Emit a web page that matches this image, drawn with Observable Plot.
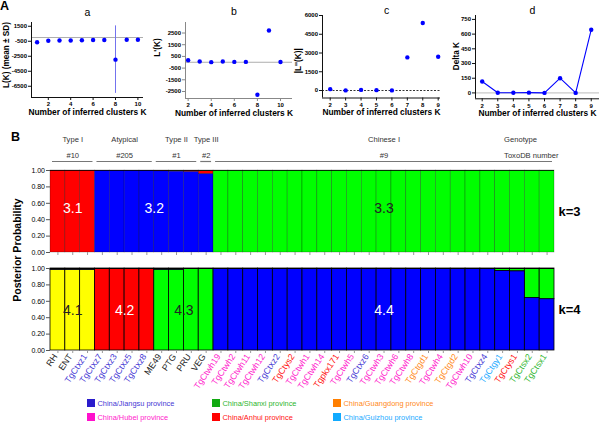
<!DOCTYPE html>
<html><head><meta charset="utf-8">
<script src="https://cdn.jsdelivr.net/npm/d3@7"></script>
<script src="https://cdn.jsdelivr.net/npm/@observablehq/plot@0.6"></script>
<style>
body{margin:0;background:#fff;font-family:"Liberation Sans",Arial,sans-serif;}
#root{position:relative;width:600px;height:423px;overflow:hidden;background:#fff;}
.pane{position:absolute;}
.pane svg{display:block;}
.lbl{position:absolute;white-space:nowrap;color:#000;}
#legend{position:absolute;left:87px;top:398px;display:grid;grid-template-columns:125px 121px 150px;grid-auto-rows:14px;font-size:7.4px;}
#legend .item{display:flex;align-items:center;height:10px;}
#legend .sw{width:8px;height:8px;margin-right:2.5px;flex:none;}
</style></head><body><div id="root"></div>
<script>
// ---------- Data: panel A ----------
const kA = [1, 2, 3, 4, 5, 6, 7, 8, 9, 10];
const lkMean = [-640, -440, -400, -400, -370, -340, -330, -2950, -300, -290];
const lkSd = [10, 15, 15, 20, 20, 25, 25, 4500, 20, 25];
const kB = [2, 3, 4, 5, 6, 7, 8, 9, 10];
const lPrime = [170, 60, 10, 60, 30, 30, -2780, 2720, 20];
const kC = [2, 3, 4, 5, 6, 7, 8, 9];
const lDouble = [110, 10, 50, 30, 10, 2650, 5400, 2700];
const kD = [2, 3, 4, 5, 6, 7, 8, 9];
const deltaK = [116, 2, 1, 3, 0, 150, 0, 645];

// ---------- Data: panel B ----------
const isolates = ["RH","ENT","TgCtxz1","TgCtxz7","TgCtxz3","TgCtxz5","TgCtxz8","ME49","PTG","PRU","VEG",
  "TgCtwh19","TgCtwh2","TgCtwh11","TgCtwh12","TgCtxz2","TgCtys2","TgCtwh1","TgCtwh14","Tgpkx171","TgCtwh5",
  "TgCtxz6","TgCtwh3","TgCtwh6","TgCtwh8","TgCtgd1","TgCtwh4","TgCtgd2","TgCtwh10","TgCtxz4","TgCtgy1",
  "TgCtys1","TgCtsx2","TgCtsx1"];
const origin = ["ref","ref","Jiangsu","Jiangsu","Jiangsu","Jiangsu","Jiangsu","ref","ref","ref","ref",
  "Hubei","Hubei","Hubei","Hubei","Jiangsu","Anhui","Hubei","Hubei","Anhui","Hubei",
  "Jiangsu","Hubei","Hubei","Hubei","Guangdong","Hubei","Guangdong","Hubei","Jiangsu","Guizhou",
  "Anhui","Shanxi","Shanxi"];
// k = 3 membership (clusters shown red / blue / green)
const k3Red   = [1,1,1,0,0,0,0,0.01,0.01,0.02,0.04, 0,0,0,0,0,0,0,0,0,0,0,0,0,0,0,0,0,0,0,0,0,0,0];
const k3Blue  = [0,0,0,1,1,1,1,0.99,0.985,0.98,0.955, 0,0,0,0,0,0,0,0,0,0,0,0,0,0,0,0,0,0,0,0,0,0,0];
const k3Green = [0,0,0,0,0,0,0,0,0.005,0,0.005, 1,1,1,1,1,1,1,1,1,1,1,1,1,1,1,1,1,1,1,1,1,1,1];
// k = 4 membership (clusters shown yellow / red / green / blue)
const k4Yellow = [0.985,0.985,0.985,0,0,0,0,0,0,0,0, 0,0,0,0,0,0,0,0,0,0,0,0,0,0,0,0,0,0,0,0,0,0,0];
const k4Red    = [0.005,0.005,0.005,1,1,1,1,0.005,0.005,0,0, 0,0,0,0,0,0,0,0,0,0,0,0,0,0,0,0,0,0,0,0,0,0,0];
const k4Green  = [0.005,0.005,0.005,0,0,0,0,0.985,0.985,1,1, 0,0,0,0,0,0,0,0,0,0,0,0,0.005,0.005,0.005,0.005,0.005,0.005,0.005,0.03,0.035,0.36,0.375];
const k4Blue   = [0.005,0.005,0.005,0,0,0,0,0.01,0.01,0,0, 1,1,1,1,1,1,1,1,1,1,1,1,0.995,0.995,0.995,0.995,0.995,0.995,0.995,0.97,0.965,0.64,0.625];

const groupNames = ["Type I","Atypical","Type II","Type III","Chinese I"];
const groupDB = ["#10","#205","#1","#2","#9"];
const groupStart = [0, 3, 7, 10, 11];
const groupEnd = [3, 7, 10, 11, 34];
const rowHeaders = ["Genotype", "ToxoDB number"];

const k3Labels = ["3.1","3.2","3.3"];
const k4Labels = ["4.1","4.2","4.3","4.4"];

const provinces = ["China/Jiangsu province","China/Shanxi province","China/Guangdong province",
  "China/Hubei province","China/Anhui province","China/Guizhou province"];
const provinceKeys = ["Jiangsu","Shanxi","Guangdong","Hubei","Anhui","Guizhou"];
const provinceColors = ["#2a1bcc","#11aa11","#ff7f00","#ff10cc","#ff0000","#11aaff"];
const provinceText = ["#4638d4","#2db52d","#ff8a1a","#ff22cc","#ff1111","#22aaff"];

// ---------- helpers ----------
const FONT = '"Liberation Sans", Arial, Helvetica, sans-serif';
const root = document.getElementById("root");
function place(el, left, top) {
  const d = document.createElement("div");
  d.className = "pane"; d.style.left = left + "px"; d.style.top = top + "px";
  d.appendChild(el); root.appendChild(d);
}
function label(text, left, top, css) {
  const d = document.createElement("div");
  d.className = "lbl"; d.textContent = text;
  d.style.left = left + "px"; d.style.top = top + "px";
  Object.assign(d.style, css || {});
  root.appendChild(d);
}
const topStyle = {fontFamily: FONT, fontSize: "6px", fontWeight: "bold", background: "transparent", overflow: "visible", color: "#000"};

function topPanel(o) {
  return Plot.plot({
    width: o.width, height: 122,
    marginLeft: o.mL, marginRight: o.mR, marginTop: o.mT, marginBottom: 122 - o.bottom,
    x: {domain: o.xDomain}, y: {domain: o.yDomain},
    style: topStyle,
    marks: [
      ...o.marks,
      Plot.ruleX([o.xDomain[0]], {stroke: o.axisColor, strokeWidth: 1}),
      Plot.ruleY([o.yDomain[0]], {stroke: o.axisColor, strokeWidth: 1}),
      Plot.axisX({ticks: o.xTicks, tickSize: 3, tickPadding: 1.5, tickFormat: String, label: null, stroke: o.axisColor}),
      Plot.axisY({ticks: o.yTicks, tickSize: 3, tickPadding: 1.5, tickFormat: String, label: null, stroke: o.axisColor}),
      Plot.text([o.title], {frameAnchor: "top", dy: o.titleDy, dx: o.titleDx || 0, fontSize: 10.5, fontWeight: "normal"}),
      Plot.text(["Number of inferred clusters K"], {frameAnchor: "bottom", dy: 17, dx: o.xlabDx || 0, fontSize: 8.4, fontWeight: "bold"}),
      Plot.text([o.ylabel], {frameAnchor: "left", textAnchor: "middle", rotate: -90, dx: -o.ylabDx, dy: o.ylabDy || 0, fontSize: 8.2, fontWeight: "bold"})
    ]
  });
}

// ---------- Panel A: a ----------
const ptsA = kA.map((k, i) => ({k, mean: lkMean[i], sd: lkSd[i]}));
place(topPanel({
  width: 150, mL: 31, mR: 7, mT: 22, bottom: 97,
  xDomain: [0.5, 10.5], yDomain: [-8000, 2000],
  xTicks: [2, 4, 6, 8, 10], yTicks: [1500, -500, -2500, -4500, -6500],
  axisColor: "#111", title: "a", titleDy: -14, ylabel: "L(K) (mean \u00b1 SD)", ylabDx: 25, ylabDy: -5,
  marks: [
    Plot.ruleY([0], {stroke: "#999", strokeWidth: 0.8}),
    Plot.ruleX(ptsA, {x: "k", y1: d => d.mean - d.sd, y2: d => d.mean + d.sd, stroke: "#7373ee", strokeWidth: 1}),
    Plot.dot(ptsA, {x: "k", y: "mean", r: 2.2, fill: "#0000ff"})
  ]
}), 0, 0);

// ---------- Panel A: b ----------
const ptsB = kB.map((k, i) => ({k, v: lPrime[i]}));
place(topPanel({
  width: 145, mL: 35, mR: 3, mT: 22, bottom: 98,
  xDomain: [1.77, 11.04], yDomain: [-3100, 3400],
  xTicks: [2, 4, 6, 8, 10], yTicks: [2500, 1500, 500, -500, -1500, -2500],
  axisColor: "#888", title: "b", titleDy: -15, titleDx: -5, ylabel: "L'(K)", ylabDx: 28, ylabDy: -13, xlabDx: -5,
  marks: [
    Plot.ruleY([0], {stroke: "#999", strokeWidth: 0.8}),
    Plot.dot(ptsB, {x: "k", y: "v", r: 2.2, fill: "#0000ff"})
  ]
}), 150, 0);

// ---------- Panel A: c ----------
const ptsC = kC.map((k, i) => ({k, v: lDouble[i]}));
place(topPanel({
  width: 150, mL: 27, mR: 5, mT: 15, bottom: 97.5,
  xDomain: [1.5, 9.15], yDomain: [-600, 6000],
  xTicks: [2, 3, 4, 5, 6, 7, 8, 9], yTicks: [0, 1500, 3000, 4500, 6000],
  axisColor: "#111", title: "c", titleDy: -9, titleDx: 5, ylabel: "|L''(K)|", ylabDx: 24, ylabDy: 4,
  marks: [
    Plot.ruleY([0], {stroke: "#000", strokeWidth: 0.8, strokeDasharray: "2,1.5"}),
    Plot.dot(ptsC, {x: "k", y: "v", r: 2.2, fill: "#0000ff"})
  ]
}), 295, 0);

// ---------- Panel A: d ----------
const ptsD = kD.map((k, i) => ({k, v: deltaK[i]}));
place(topPanel({
  width: 155, mL: 30, mR: 1, mT: 15, bottom: 98.3,
  xDomain: [1.57, 9.53], yDomain: [-60, 790],
  xTicks: [2, 3, 4, 5, 6, 7, 8, 9], yTicks: [0, 150, 300, 450, 600, 750],
  axisColor: "#111", title: "d", titleDy: -9, titleDx: -5, ylabel: "Delta K", ylabDx: 19, ylabDy: -1,
  marks: [
    Plot.ruleY([0], {stroke: "#aaa", strokeWidth: 0.8}),
    Plot.line(ptsD, {x: "k", y: "v", stroke: "#0000ff", strokeWidth: 1.1}),
    Plot.dot(ptsD, {x: "k", y: "v", r: 2.2, fill: "#0000ff"})
  ]
}), 445, 0);

// ---------- Panel B ----------
const n = isolates.length;
const centers = isolates.map((d, i) => i + 0.5);
function membership(series) {
  const rows = [];
  series.forEach(([cluster, vals]) => vals.forEach((v, i) => { if (v > 0) rows.push({i, cluster, value: v}); }));
  return rows;
}
function labelRows(labels, series) {
  // centre each cluster label over the isolates where that cluster dominates
  return labels.map((text, c) => {
    const idx = d3.range(n).filter(i => series.every(([, vals]) => vals[i] <= series[c][1][i]));
    return {text, x: d3.mean(idx) + 0.5};
  });
}
const k3Series = [["cl-red", k3Red], ["cl-blue", k3Blue], ["cl-green", k3Green]];
const k4Series = [["cl-yellow", k4Yellow], ["cl-red", k4Red], ["cl-green", k4Green], ["cl-blue", k4Blue]];
const clusterColor = {domain: ["cl-red", "cl-blue", "cl-green", "cl-yellow"], range: ["#ff0000", "#0000ff", "#00ff00", "#ffff00"]};
const groups = groupNames.map((name, j) => ({name, db: groupDB[j], start: groupStart[j], end: groupEnd[j]}));
const bStyle = {fontFamily: FONT, fontSize: "7px", background: "transparent", overflow: "visible", color: "#000"};

const lab3 = labelRows(k3Labels, k3Series);
const lab4 = labelRows(k4Labels, k4Series);
const lab3Fill = ["#fff", "#fff", "#222"];
const lab4Fill = ["#222", "#fff", "#222", "#fff"];

place(Plot.plot({
  width: 600, height: 131, marginLeft: 50, marginRight: 46, marginTop: 45, marginBottom: 4,
  x: {domain: [0, n]}, y: {domain: [0, 1]}, color: clusterColor, style: bStyle,
  marks: [
    Plot.rectY(membership(k3Series), Plot.stackY({x1: "i", x2: d => d.i + 1, y: "value", fill: "cluster",
      order: "value", reverse: true, stroke: "#000", strokeWidth: 0.6, strokeOpacity: 0.4})),
    Plot.ruleY([1], {stroke: "#000", strokeWidth: 0.8}),
    Plot.axisY({ticks: [0, 0.2, 0.4, 0.6, 0.8, 1], tickFormat: d => d.toFixed(2), tickSize: 4, tickPadding: 1.5, label: null, stroke: "#555"}),
    Plot.axisX({ticks: centers, tickSize: 3, tickFormat: () => "", label: null, stroke: "#999"}),
    Plot.ruleY(groups, {x1: "start", x2: "end", y: 1, dy: -9, insetLeft: 2, insetRight: 2, stroke: "#777", strokeWidth: 1.2}),
    Plot.text(groups, {x: d => (d.start + d.end) / 2, frameAnchor: "top", dy: -34, text: "name", fontSize: 7.6, fill: "#333"}),
    Plot.text(groups, {x: d => (d.start + d.end) / 2, frameAnchor: "top", dy: -18, text: "db", fontSize: 7.6, fill: "#333"}),
    Plot.text([rowHeaders[0]], {x: 30.6, frameAnchor: "top", dy: -34, textAnchor: "start", fontSize: 7.6, fill: "#333"}),
    Plot.text([rowHeaders[1]], {x: 30.6, frameAnchor: "top", dy: -18, textAnchor: "start", fontSize: 7.6, fill: "#333"}),
    Plot.text(lab3, {x: "x", y: 0.535, text: "text", fontSize: 14, fill: (d, i) => lab3Fill[i]}),
    Plot.text(["k=3"], {frameAnchor: "right", dx: 4, textAnchor: "start", fontSize: 13, fontWeight: "bold"})
  ]
}), 0, 125);

place(Plot.plot({
  width: 600, height: 139, marginLeft: 50, marginRight: 46, marginTop: 12, marginBottom: 45,
  x: {domain: [0, n]}, y: {domain: [0, 1]}, color: clusterColor, style: bStyle,
  marks: [
    Plot.rectY(membership(k4Series), Plot.stackY({x1: "i", x2: d => d.i + 1, y: "value", fill: "cluster",
      order: "value", reverse: true, stroke: "#000", strokeWidth: 0.8})),
    Plot.ruleY([1], {stroke: "#000", strokeWidth: 1.2}),
    Plot.axisY({ticks: [0, 0.2, 0.4, 0.6, 0.8, 1], tickFormat: d => d.toFixed(2), tickSize: 4, tickPadding: 1.5, label: null, stroke: "#555"}),
    Plot.axisX({ticks: centers, tickSize: 3, tickFormat: () => "", label: null, stroke: "#999"}),
    Plot.text(isolates, {x: (d, i) => i + 0.5, frameAnchor: "bottom", dy: 6, rotate: -56, textAnchor: "end",
      fontSize: 8.8, fill: (d, i) => { const j = provinceKeys.indexOf(origin[i]); return j < 0 ? "#222" : provinceText[j]; }}),
    Plot.text(lab4, {x: "x", y: 0.49, text: "text", fontSize: 14, fill: (d, i) => lab4Fill[i]}),
    Plot.text(["k=4"], {frameAnchor: "right", dx: 4, textAnchor: "start", fontSize: 13, fontWeight: "bold"})
  ]
}), 0, 256);

// panel letters and shared axis title
label("A", 0, -1, {fontSize: "12.5px", fontWeight: "bold"});
label("B", 11, 130, {fontSize: "12.5px", fontWeight: "bold"});
label("Posterior Probability", 17, 250, {fontSize: "10.5px", fontWeight: "bold", transform: "translate(-50%,-50%) rotate(-90deg)"});

// legend
const leg = document.createElement("div");
leg.id = "legend";
provinces.forEach((p, j) => {
  const it = document.createElement("div"); it.className = "item";
  const sw = document.createElement("div"); sw.className = "sw"; sw.style.background = provinceColors[j];
  const tx = document.createElement("span"); tx.textContent = p; tx.style.color = provinceText[j];
  it.appendChild(sw); it.appendChild(tx); leg.appendChild(it);
});
root.appendChild(leg);
</script></body></html>
